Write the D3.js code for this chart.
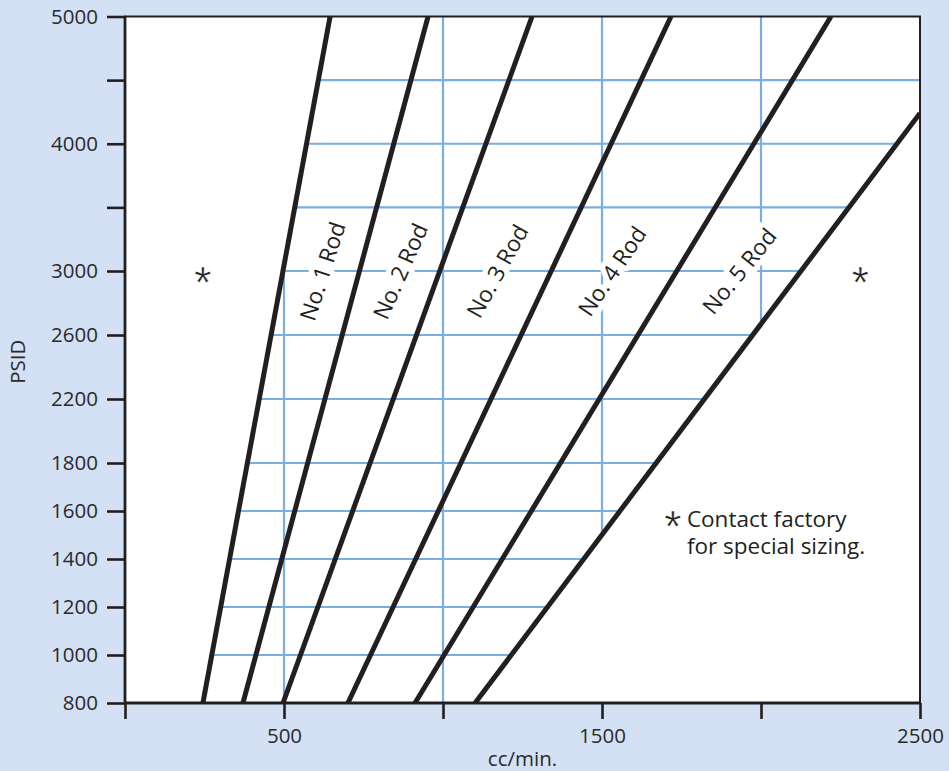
<!DOCTYPE html>
<html>
<head>
<meta charset="utf-8">
<script src="https://cdn.jsdelivr.net/npm/d3@7"></script>
<style>
  html, body { margin: 0; padding: 0; background: #d4e1f4; }
  svg { display: block; }
</style>
</head>
<body>
<svg></svg>
<script>
// Flow chart data: cc/min. vs PSID with rod sizing bands
const xTicks = [0, 500, 1000, 1500, 2000, 2500];
const xLabeled = [500, 1500, 2500];
const xGrid = [500, 1000, 1500, 2000];
const yTicks = [800, 1000, 1200, 1400, 1600, 1800, 2200, 2600, 3000, 3500, 4000, 4500, 5000];
const yUnlabeled = [3500, 4500];
const yGrid = [1000, 1200, 1400, 1600, 1800, 2200, 2600, 3000, 3500, 4000, 4500];

// boundary lines between rod sizes (x at 800 PSID, x / PSID at top end)
const lineX800 = [245, 371, 497, 701, 912, 1101];
const lineXTop = [645, 953, 1280, 1717, 2220, 2500];
const lineYTop = [5000, 5000, 5000, 5000, 5000, 4240];

const rodNames = ["No. 1 Rod", "No. 2 Rod", "No. 3 Rod", "No. 4 Rod", "No. 5 Rod"];
const rodLabelX = [620, 865, 1170, 1531, 1931];
const rodLabelY = 3000;
const rodAngle = [-72, -66, -61, -56, -51];

const starX = [245, 2312];
const starY = [2990, 2990];
const noteX = 1767, noteY = 1533;
const noteLines = ["Contact factory", "for special sizing."];

const width = 949, height = 771;
const ink = "#231f20";
const gridColor = "#78aee2";

const svg = d3.select("svg").attr("width", width).attr("height", height);

svg.append("rect").attr("width", width).attr("height", height).attr("fill", "#d4e1f4");

const x = d3.scaleLinear().domain([0, 2500]).range([125, 920]);
// the PSID axis is piecewise: 200/48px below 1800, 400/64px up to 3000, 1000/127px above
const y = d3.scaleLinear().domain([800, 1800, 3000, 5000]).range([703, 463, 271, 16.5]);

svg.append("rect")
    .attr("x", x(0)).attr("y", y(5000))
    .attr("width", x(2500) - x(0)).attr("height", y(800) - y(5000))
    .attr("fill", "#fff");

const defs = svg.append("defs");
// grid only lives between the first and last boundary line
const band = [[lineX800[0], 800], [lineXTop[0], lineYTop[0]], [2500, 5000],
              [lineXTop[5], lineYTop[5]], [lineX800[5], 800]];
defs.append("clipPath").attr("id", "band")
    .append("path")
    .attr("d", d3.line().x(d => x(d[0])).y(d => y(d[1]))(band) + "Z");
defs.append("clipPath").attr("id", "plot")
    .append("rect")
    .attr("x", x(0)).attr("y", y(5000))
    .attr("width", x(2500) - x(0)).attr("height", y(800) - y(5000));

const grid = svg.append("g").attr("clip-path", "url(#band)")
    .attr("stroke", gridColor).attr("stroke-width", 2.2);
grid.selectAll("line.h").data(yGrid).enter().append("line")
    .attr("x1", x(0)).attr("x2", x(2500))
    .attr("y1", d => y(d)).attr("y2", d => y(d));
grid.selectAll("line.v").data(xGrid).enter().append("line")
    .attr("y1", y(800)).attr("y2", y(5000))
    .attr("x1", d => x(d)).attr("x2", d => x(d));

// rod labels with white knock-out
svg.append("g").selectAll("text")
    .data(rodNames)
    .enter()
    .append("text")
    .attr("transform", (d, i) => `translate(${x(rodLabelX[i])},${y(rodLabelY)}) rotate(${rodAngle[i]})`)
    .attr("text-anchor", "middle")
    .attr("dominant-baseline", "central")
    .attr("font-family", "'Open Sans', sans-serif")
    .attr("font-size", 22.5)
    .attr("fill", ink)
    .attr("stroke", "#fff")
    .attr("stroke-width", 11)
    .attr("stroke-linejoin", "round")
    .attr("paint-order", "stroke")
    .text(d => d);

// boundary lines
const lineGen = d3.line().x(d => x(d[0])).y(d => y(d[1]));
svg.append("g").attr("clip-path", "url(#plot)")
    .selectAll("path")
    .data(lineX800)
    .enter()
    .append("path")
    .attr("d", (d, i) => lineGen([[d, 800], [lineXTop[i], lineYTop[i]]]))
    .attr("fill", "none")
    .attr("stroke", ink)
    .attr("stroke-width", 5);

// asterisks (big glyph, slightly thinned with a white outline)
function star(g, cx, cy) {
    const fs = 44;
    g.append("text")
        .attr("x", cx).attr("y", cy + 0.573 * fs)
        .attr("text-anchor", "middle")
        .attr("font-family", "'Liberation Sans', Arial, sans-serif")
        .attr("font-size", fs)
        .attr("fill", ink)
        .attr("stroke", "#fff")
        .attr("stroke-width", 0.5)
        .text("*");
}
starX.forEach((d, i) => star(svg, x(d), y(starY[i])));

// note
noteLines.forEach((t, i) => {
    svg.append("text")
        .attr("x", x(noteX))
        .attr("y", y(noteY) + i * 26.5)
        .attr("font-family", "'Open Sans', sans-serif")
        .attr("font-size", 22.5)
        .attr("fill", ink)
        .text(t);
});
star(svg, x(noteX) - 14, y(noteY) - 10);

// axes
const yAxis = d3.axisLeft(y).tickValues(yTicks).tickSize(18).tickSizeOuter(0).tickPadding(9)
    .tickFormat(d => yUnlabeled.includes(d) ? "" : d);
const xAxis = d3.axisBottom(x).tickValues(xTicks).tickSize(16).tickSizeOuter(0).tickPadding(9)
    .tickFormat(d => xLabeled.includes(d) ? d : "");

const gy = svg.append("g").attr("transform", `translate(${x(0)},0)`).call(yAxis);
const gx = svg.append("g").attr("transform", `translate(0,${y(800)})`).call(xAxis);
[gx, gy].forEach(g => {
    g.select(".domain").remove();
    g.selectAll(".tick line").attr("stroke", ink).attr("stroke-width", 2.6);
    g.selectAll(".tick text")
        .attr("fill", "#2b2a2b")
        .attr("font-family", "'Open Sans', sans-serif")
        .attr("font-size", 20.5);
});

// frame
svg.append("rect")
    .attr("x", x(0)).attr("y", y(5000))
    .attr("width", x(2500) - x(0)).attr("height", y(800) - y(5000))
    .attr("fill", "none").attr("stroke", ink).attr("stroke-width", 2);
svg.append("line")
    .attr("x1", x(0)).attr("x2", x(0)).attr("y1", y(5000)).attr("y2", y(800))
    .attr("stroke", ink).attr("stroke-width", 2.8);
svg.append("line")
    .attr("x1", x(0)).attr("x2", x(2500)).attr("y1", y(800)).attr("y2", y(800))
    .attr("stroke", ink).attr("stroke-width", 2.8);

// axis titles
svg.append("text")
    .attr("transform", `translate(25,${(y(800) + y(5000)) / 2 + 2}) rotate(-90)`)
    .attr("text-anchor", "middle")
    .attr("font-family", "'Open Sans', sans-serif")
    .attr("font-size", 20.5)
    .attr("fill", "#2b2a2b")
    .text("PSID");
svg.append("text")
    .attr("x", (x(0) + x(2500)) / 2)
    .attr("y", 766)
    .attr("text-anchor", "middle")
    .attr("font-family", "'Open Sans', sans-serif")
    .attr("font-size", 20.5)
    .attr("fill", "#2b2a2b")
    .text("cc/min.");
</script>
</body>
</html>
